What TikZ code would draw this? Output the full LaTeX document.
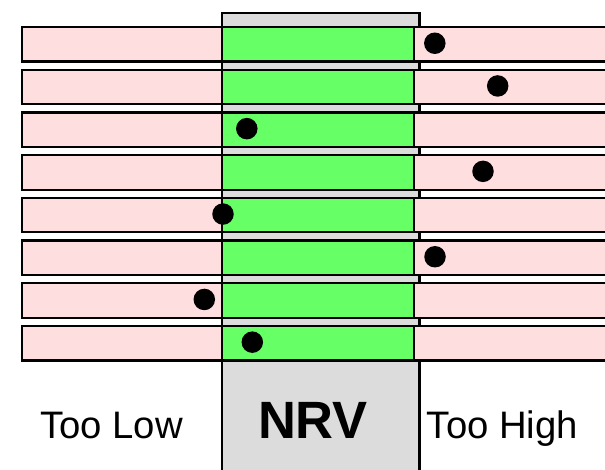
\documentclass[tikz,border=0pt]{standalone}
\usepackage{fontspec}
\setmainfont{Liberation Sans}
\definecolor{lowpink}{RGB}{255,222,224}
\definecolor{okgreen}{RGB}{102,255,102}
\definecolor{nrvgray}{RGB}{220,220,220}
\tikzset{
    band/.style={draw, line width=2.2pt, fill=lowpink, anchor=north west,
        inner sep=0pt, minimum width=599pt, minimum height=34.5pt},
    okband/.style={draw, line width=2.2pt, fill=okgreen, anchor=north west,
        inner sep=0pt, minimum width=191.7pt, minimum height=34.5pt},
    nrvcolumn/.style={draw, line width=2.2pt, fill=nrvgray, anchor=north west,
        inner sep=0pt, minimum width=197.3pt, minimum height=480pt},
    reading/.style={circle, fill=black, inner sep=0pt, minimum size=21.5pt},
    caption/.style={anchor=base, font=\fontsize{38.3}{42}\selectfont}
}

\begin{document}
\begin{tikzpicture}[x=1pt, y=-1pt]
        \useasboundingbox (0,0) rectangle (605,470);
        % the band of normal values
        \node[nrvcolumn] (nrvcol) at (221,11.7) {};
        % one row per measurement
        \foreach \dx [count=\i] in {434.8,497.7,246.8,483,223,435,204.3,252.3} {
            \node[band] (row\i) at (21,{26+(\i-1)*42.7}) {};
            \node[okband] (ok\i) at (221,{26+(\i-1)*42.7}) {};
            \node[reading] (dot\i) at (\dx,{43.25+(\i-1)*42.7}) {};
        }
        \node[caption] (low) at (111.5,438) {Too Low};
        \node[caption, font=\fontsize{52.5}{56}\selectfont\bfseries] (nrv) at (313,438) {NRV};
        \node[caption] (high) at (502.5,438) {Too High};
    \end{tikzpicture}
\end{document}
